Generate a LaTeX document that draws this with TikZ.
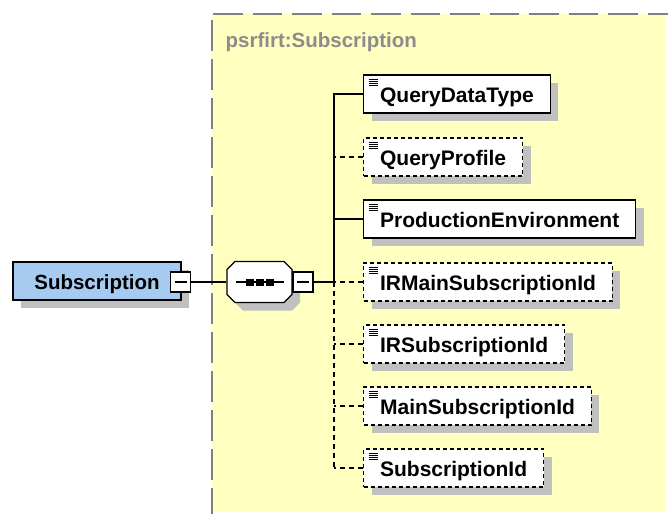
\documentclass[tikz,border=0pt]{standalone}
\usepackage{fontspec}
\setmainfont{Liberation Sans}
\usetikzlibrary{shadows}

\definecolor{bgyellow}{RGB}{255,255,192}
\definecolor{rootblue}{RGB}{166,202,240}
\definecolor{shadowgray}{RGB}{192,192,192}
\definecolor{framegray}{RGB}{128,128,128}
\definecolor{titlegray}{RGB}{140,140,140}

\tikzset{
  boxshadow/.style={drop shadow={shadow xshift=8pt,shadow yshift=-8pt,fill=shadowgray,opacity=1}},
  elemfont/.style={font=\fontsize{21}{24}\selectfont\bfseries},
  elem/.style={draw,fill=white,boxshadow,elemfont,anchor=west,minimum height=38pt,
    inner xsep=16.5pt,text height=16pt,text depth=0pt,
    path picture={\foreach \k in {4,6,8,10}
      \draw[solid,line width=1pt] ([shift={(5pt,-\k*1pt)}]path picture bounding box.north west) -- ++(9pt,0);}},
  optelem/.style={elem,dash pattern=on 4pt off 3pt},
  minusbox/.style={draw,fill=white,minimum size=20pt,inner sep=0pt,
    path picture={\draw[line width=1.2pt] ([xshift=-6pt]path picture bounding box.center) -- ([xshift=6pt]path picture bounding box.center);}},
  optline/.style={dash pattern=on 5pt off 4pt},
  octagon/.style={insert path={++(-32.5,-12.5) -- ++(8,-8) -- ++(49,0) -- ++(8,8) -- ++(0,25) -- ++(-8,8) -- ++(-49,0) -- ++(-8,-8) -- cycle}},
}

\begin{document}
\begin{tikzpicture}[x=1pt,y=-1pt,line width=1.2pt]
    \useasboundingbox (0,0) rectangle (668,514);
    % complex type area
    \fill[bgyellow] (212,14) rectangle (665,512);
    \draw[framegray,dash pattern=on 29.5pt off 10pt] (213,14) -- (668,14);
    \draw[framegray,dash pattern=on 31pt off 8pt] (212,20) -- (212,514);
    \node[anchor=base west,text=titlegray,font=\fontsize{20.5}{24}\selectfont\bfseries,inner sep=0pt] (title) at (225,47) {psrfirt:Subscription};

    % root element and sequence
    \node[draw,fill=rootblue,boxshadow,font=\fontsize{20.5}{24}\selectfont\bfseries,minimum height=38pt,minimum width=168pt,text height=16pt,text depth=0pt] (root) at (97,281) {Subscription};
    \node[minusbox] (rootminus) at (180.5,282) {};
    \node[minimum width=65pt,minimum height=41pt,inner sep=0pt] (seq) at (259.5,282) {};
    \fill[shadowgray] ([shift={(8pt,-8pt)}]seq.center) [octagon];
    \draw[fill=white] (seq.center) [octagon];
    \node[minusbox] (seqminus) at (303,282) {};
    \draw ([xshift=-24pt]seq.center) -- ([xshift=24pt]seq.center);
    \foreach \d in {-10,0,10}
        \fill ([xshift=\d*1pt]seq.center) ++(-4pt,-3.5pt) rectangle ++(8pt,7pt);
    \coordinate (junc) at (334,282);

    % children
    \node[elem] (qdt) at (363,94) {QueryDataType};
    \node[optelem] (qp) at (363,157) {QueryProfile};
    \node[elem] (pe) at (363,219) {ProductionEnvironment};
    \node[optelem] (irm) at (363,282) {IRMainSubscriptionId};
    \node[optelem] (irs) at (363,344) {IRSubscriptionId};
    \node[optelem] (msid) at (363,406) {MainSubscriptionId};
    \node[optelem] (sid) at (363,468) {SubscriptionId};

    % connectors
    \draw (rootminus.east) -- (seq.west);
    \draw (seqminus.east) -- (junc);
    \draw (qdt.west) -| (junc);
    \draw (pe.west) -- (junc |- pe.west);
    \draw[optline] (qp.west) -- (junc |- qp.west);
    \draw[optline] (irm.west) -- (junc);
    \draw[optline] (junc) -- (junc |- sid.west);
    \draw[optline] (irs.west) -- (junc |- irs.west);
    \draw[optline] (msid.west) -- (junc |- msid.west);
    \draw[optline] (sid.west) -- (junc |- sid.west);
\end{tikzpicture}
\end{document}
